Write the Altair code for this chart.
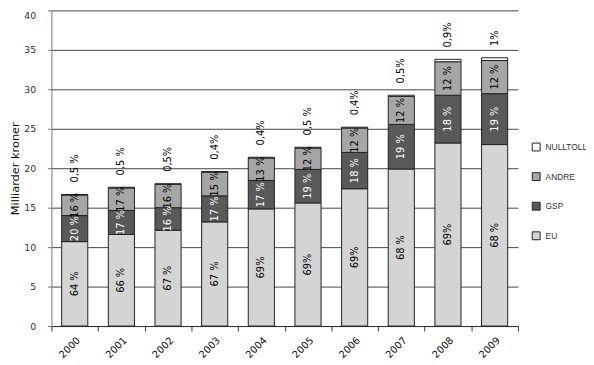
import altair as alt
import pandas as pd

years = ["2000", "2001", "2002", "2003", "2004", "2005", "2006", "2007", "2008", "2009"]
categories = ["EU", "GSP", "ANDRE", "NULLTOLL"]

eu = [10.7, 11.6, 12.15, 13.2, 14.85, 15.6, 17.4, 19.9, 23.2, 23.0]
gsp = [3.3, 3.05, 2.85, 3.3, 3.6, 4.25, 4.6, 5.65, 6.05, 6.45]
andre = [2.6, 2.85, 2.95, 3.0, 2.85, 2.7, 3.1, 3.55, 4.25, 4.2]
nulltoll = [0.08, 0.09, 0.09, 0.08, 0.09, 0.11, 0.1, 0.15, 0.3, 0.35]

eu_lbl = ["64 %", "66 %", "67 %", "67 %", "69%", "69%", "69%", "68 %", "69%", "68 %"]
gsp_lbl = ["20 %", "17 %", "16 %", "17 %", "17 %", "19 %", "18 %", "19 %", "18 %", "19 %"]
andre_lbl = ["16 %", "17 %", "16 %", "15 %", "13 %", "12 %", "12 %", "12 %", "12 %", "12 %"]
null_lbl = ["0,5 %", "0,5 %", "0,5%", "0,4%", "0,4%", "0,5 %", "0,4%", "0,5%", "0,9%", "1%"]

y_ticks = [0, 5, 10, 15, 20, 25, 30, 35, 40]

series = [eu, gsp, andre, nulltoll]
labels = [eu_lbl, gsp_lbl, andre_lbl, null_lbl]
rows = []
for i, yr in enumerate(years):
    for k, cat in enumerate(categories):
        rows.append({"year": yr, "cat": cat, "ord": k,
                     "value": series[k][i], "label": labels[k][i]})
df = pd.DataFrame(rows)

base = alt.Chart(df).transform_stack(
    stack="value", groupby=["year"], as_=["y0", "y1"],
    sort=[alt.SortField("ord", order="ascending")]
).transform_calculate(mid="(datum.y0 + datum.y1) / 2")

x_scale = alt.Scale(paddingInner=0, paddingOuter=0)
x_axis = alt.Axis(labelAngle=-45, tickBand="extent", tickSize=5,
                  tickColor="#333", domainColor="#333",
                  labelFont="DejaVu Sans", labelFontSize=10,
                  labelColor="#111", labelPadding=4, grid=False)

y_scale = alt.Scale(domain=[0, 40], nice=False)
y_axis = alt.Axis(values=y_ticks, title="Milliarder kroner",
                  labelOverlap=False,
                  titleFont="DejaVu Sans", titleFontSize=11.5,
                  titleFontWeight="normal", titleColor="#111",
                  titlePadding=3,
                  labelFont="DejaVu Sans", labelFontSize=9.5,
                  labelColor="#333", labelPadding=12,
                  labelBaseline={"condition": {"test": "datum.value >= 40", "value": "top"}, "value": "middle"},
                  tickSize=4, tickColor="#777", domainColor="#777",
                  gridColor="#444", gridWidth=1)


def xenc():
    return alt.X("year:N", title=None, sort=years, scale=x_scale, axis=x_axis)


bars = base.mark_bar(stroke="#222", strokeWidth=1,
                     width=alt.RelativeBandSize(0.56)).encode(
    x=xenc(),
    y=alt.Y("y0:Q", scale=y_scale, axis=y_axis),
    y2="y1:Q",
    color=alt.Color("cat:N",
                    scale=alt.Scale(domain=["NULLTOLL", "ANDRE", "GSP", "EU"],
                                    range=["#ffffff", "#a6a6a6", "#595959", "#d4d4d4"]),
                    legend=alt.Legend(title=None, orient="none", legendX=487, legendY=134,
                                      symbolType="square", symbolSize=64,
                                      symbolStrokeColor="#222", symbolStrokeWidth=1,
                                      labelFont="Liberation Sans", labelFontSize=8.5,
                                      labelColor="#333", rowPadding=17, padding=0,
                                      labelOffset=5)),
    order=alt.Order("ord:Q", sort="ascending"),
)

inside = base.transform_filter("datum.cat != 'NULLTOLL'").mark_text(
    angle=270, font="DejaVu Sans", fontSize=10, align="center", baseline="middle"
).encode(
    x=xenc(),
    y=alt.Y("mid:Q", scale=y_scale, axis=y_axis),
    text="label:N",
    color=alt.condition("datum.cat == 'GSP'", alt.value("white"), alt.value("black")),
)

top = base.transform_filter("datum.cat == 'NULLTOLL'").mark_text(
    angle=270, font="DejaVu Sans", fontSize=10, align="left", baseline="middle",
    dx=12, color="black"
).encode(
    x=xenc(),
    y=alt.Y("y1:Q", scale=y_scale, axis=y_axis),
    text="label:N",
)

chart = alt.layer(bars, inside, top).properties(
    width=473, height=320,
    autosize=alt.AutoSizeParams(type="none"),
    padding={"left": 44, "top": 0, "right": 69, "bottom": 34},
).configure_view(stroke=None)

chart.save("out.html", embed_options={"renderer": "svg", "actions": False})
